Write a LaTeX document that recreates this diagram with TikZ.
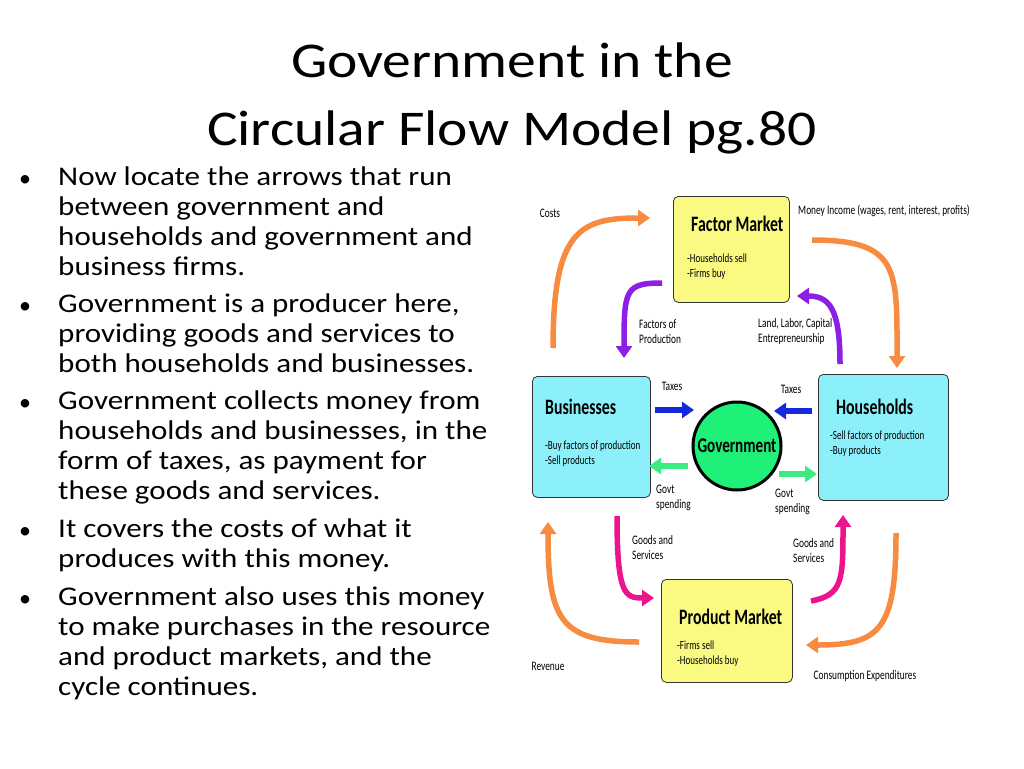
\documentclass[tikz,border=0pt]{standalone}
\usepackage{fontspec}
\setmainfont{Carlito}
\newfontfamily\cond[FakeStretch=0.72]{Carlito}
\newfontfamily\wide[FakeStretch=1.15]{Carlito}
\usetikzlibrary{arrows.meta}
\begin{document}
\begin{tikzpicture}[x=1pt,y=-1pt,
 lab/.style={font=\cond\fontsize{13}{15}\selectfont,align=left,inner sep=0pt},
 box/.style={draw=black!80,line width=0.8pt,rounded corners=5pt,anchor=north west,inner sep=0pt},
 ttl/.style={font=\cond\bfseries\fontsize{22}{24}\selectfont,anchor=west,inner sep=0pt},
 sub/.style={font=\cond\fontsize{12.5}{15}\selectfont,anchor=north west,align=left,inner sep=0pt},
 flow/.style={line width=5.5pt,-{Triangle[length=12pt,width=16pt]}},
 bul/.style={font=\wide\fontsize{27}{30}\selectfont,anchor=north west,align=left,inner sep=0pt}]
\useasboundingbox (0,0) rectangle (1024,768);
\fill[white] (0,0) rectangle (1024,768);
\definecolor{byl}{RGB}{250,250,130}
\definecolor{bcy}{RGB}{140,240,250}
\definecolor{gvg}{RGB}{30,240,120}
\node[font=\wide\fontsize{50}{68}\selectfont,align=center] (title) at (512,98) {Government in the\\Circular Flow Model pg.80};
\node[bul] (b1) at (58,167) {Now locate the arrows that run\\between government and\\households and government and\\business firms.};
\node[bul] (b2) at (58,294) {Government is a producer here,\\providing goods and services to\\both households and businesses.};
\node[bul] (b3) at (58,391) {Government collects money from\\households and businesses, in the\\form of taxes, as payment for\\these goods and services.};
\node[bul] (b4) at (58,519) {It covers the costs of what it\\produces with this money.};
\node[bul] (b5) at (58,587) {Government also uses this money\\to make purchases in the resource\\and product markets, and the\\cycle continues.};
\foreach \y in {181,308,405,533,601} \node[font=\fontsize{24}{30}\selectfont] (d\y) at (25,\y) {\textbullet};
% boxes
\node[box,fill=byl,minimum width=116pt,minimum height=106pt] (fm) at (673,196) {};
\node[box,fill=bcy,minimum width=118pt,minimum height=121pt] (bz) at (532,376) {};
\node[box,fill=bcy,minimum width=130pt,minimum height=126pt] (hh) at (818,374) {};
\node[box,fill=byl,minimum width=131pt,minimum height=103pt] (pm) at (661,579) {};
\node[circle,draw=black,line width=3pt,fill=gvg,minimum size=88pt,inner sep=0pt] (gov) at (737,446) {};
\node[font=\cond\bfseries\fontsize{21}{22}\selectfont] (govt) at (gov) {Government};
\node[ttl] (fmt) at (691,224) {Factor Market};
\node[sub] (fms) at (687,254) {-Households sell\\-Firms buy};
\node[ttl] (bzt) at (545,407) {Businesses};
\node[sub] (bzs) at (545,441) {-Buy factors of production\\-Sell products};
\node[ttl] (hht) at (836,407) {Households};
\node[sub] (hhs) at (830,431) {-Sell factors of production\\-Buy products};
\node[ttl] (pmt) at (679,617) {Product Market};
\node[sub] (pms) at (677,641) {-Firms sell\\-Households buy};
% labels
\node[lab] (l1) at (550,213) {Costs};
\node[lab] (l2) at (884,211) {Money Income (wages, rent, interest, profits)};
\node[lab,anchor=west] (l3) at (639,332) {Factors of\\Production};
\node[lab,anchor=west] (l4) at (758,332) {Land, Labor, Capital\\Entrepreneurship};
\node[lab] (l5) at (672,386) {Taxes};
\node[lab] (l6) at (791,389) {Taxes};
\node[lab,anchor=west] (l7) at (656,498) {Govt\\spending};
\node[lab,anchor=west] (l8) at (775,502) {Govt\\spending};
\node[lab,anchor=west] (l9) at (632,548) {Goods and\\Services};
\node[lab,anchor=west] (l10) at (793,551) {Goods and\\Services};
\node[lab] (l11) at (548,666) {Revenue};
\node[lab] (l12) at (865,676) {Consumption Expenditures};
% coordinates
\coordinate (c1) at (553,348); \coordinate (c2) at (650,218);
\coordinate (m1) at (812,240); \coordinate (m2) at (897,368);
\coordinate (p1) at (662,283); \coordinate (p2) at (624,358);
\coordinate (q1) at (840,364); \coordinate (q2) at (797,296);
\coordinate (t1) at (655,410); \coordinate (t2) at (694,410);
\coordinate (t3) at (812,411); \coordinate (t4) at (774,411);
\coordinate (g1) at (688,466); \coordinate (g2) at (649,466);
\coordinate (g3) at (779,474); \coordinate (g4) at (817,474);
\coordinate (k1) at (617,516); \coordinate (k2) at (654,598);
\coordinate (k3) at (811,601); \coordinate (k4) at (843,515);
\coordinate (r1) at (639,642); \coordinate (r2) at (548,522);
\coordinate (s1) at (896,533); \coordinate (s2) at (806,645);
\definecolor{orng}{RGB}{247,140,64}
\definecolor{purp}{RGB}{140,30,230}
\definecolor{blu}{RGB}{20,40,220}
\definecolor{grn}{RGB}{60,235,130}
\definecolor{pnk}{RGB}{236,20,140}
\draw[flow,orng] (c1) .. controls (553,230) and (580,218) .. (c2);
\draw[flow,orng] (m1) .. controls (900,240) and (897,270) .. (m2);
\draw[flow,purp] (p1) .. controls (625,283) and (624,290) .. (p2);
\draw[flow,purp] (q1) .. controls (840,310) and (830,296) .. (q2);
\draw[flow,blu] (t1) -- (t2);
\draw[flow,blu] (t3) -- (t4);
\draw[flow,grn] (g1) -- (g2);
\draw[flow,grn] (g3) -- (g4);
\draw[flow,pnk] (k1) .. controls (617,595) and (625,598) .. (k2);
\draw[flow,pnk] (k3) .. controls (843,595) and (843,580) .. (k4);
\draw[flow,orng] (r1) .. controls (560,642) and (548,620) .. (r2);
\draw[flow,orng] (s1) .. controls (896,630) and (880,645) .. (s2);
\end{tikzpicture}
\end{document}
